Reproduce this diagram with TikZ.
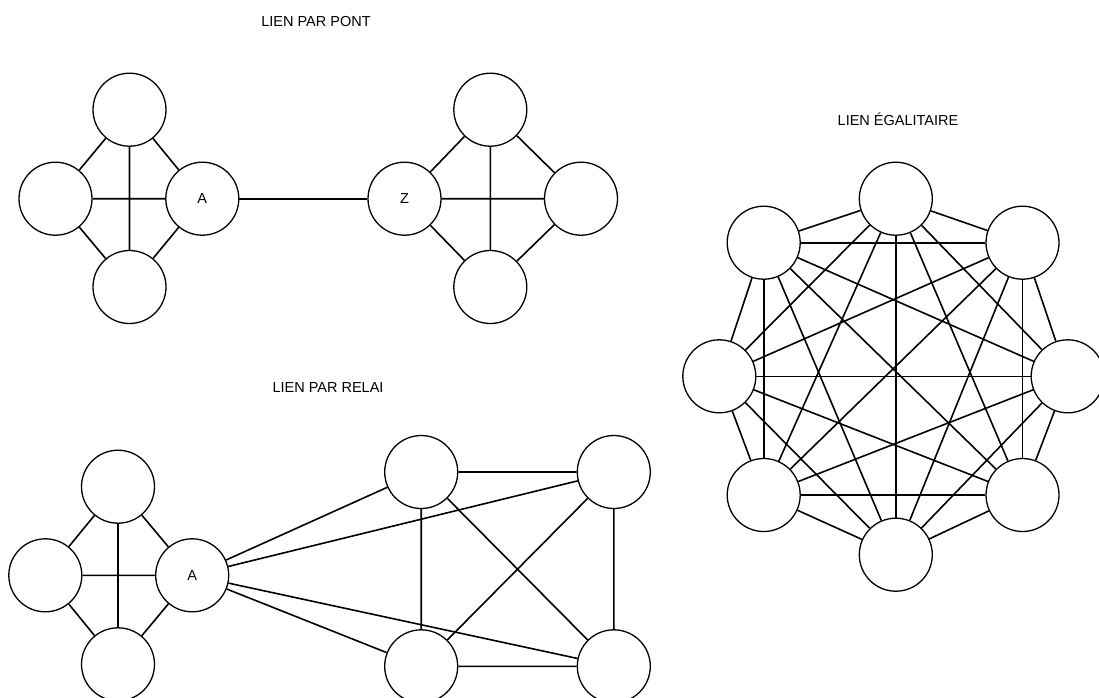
\documentclass[tikz,border=0pt]{standalone}
\usepackage{fontspec}
\setmainfont{Liberation Sans}
\begin{document}
\begin{tikzpicture}[x=1pt,y=-1pt,
  nd/.style={circle,draw,fill=white,line width=1.3pt,minimum size=73pt,inner sep=0pt,font=\fontsize{14.5}{16}\selectfont},
  ed/.style={line width=1.6pt},
  ttl/.style={font=\fontsize{14.5}{16}\selectfont}]
\useasboundingbox (0,0) rectangle (1099,697);
% titles
\node[ttl] (t1) at (316,22) {LIEN PAR PONT};
\node[ttl] (t2) at (898,119) {LIEN ÉGALITAIRE};
\node[ttl] (t3) at (328,388) {LIEN PAR RELAI};
% bridge group
\node[nd] (a1) at (129.5,109.7) {};
\node[nd] (a2) at (55.5,198.7) {};
\node[nd] (aA) at (202.3,198.7) {A};
\node[nd] (a4) at (129.5,287) {};
\node[nd] (aZ) at (404.5,198.7) {Z};
\node[nd] (b1) at (490.3,109.7) {};
\node[nd] (b3) at (581,198.7) {};
\node[nd] (b4) at (490.3,287) {};
\draw[ed] (a1)--(a2) (a1)--(aA) (a2)--(a4) (aA)--(a4) (a1)--(a4) (a2)--(aA);
\draw[ed] (aA)--(aZ);
\draw[ed] (aZ)--(b1) (b1)--(b3) (aZ)--(b4) (b4)--(b3) (b1)--(b4) (aZ)--(b3);
% relay group
\node[nd] (c1) at (118,486.7) {};
\node[nd] (c2) at (45.3,575.3) {};
\node[nd] (cA) at (192.2,575.3) {A};
\node[nd] (c4) at (118,664.3) {};
\node[nd] (d1) at (421.2,472) {};
\node[nd] (d2) at (613.8,472) {};
\node[nd] (d3) at (421.2,666.3) {};
\node[nd] (d4) at (613.8,666.3) {};
\draw[ed] (c1)--(c2) (c1)--(cA) (c2)--(c4) (cA)--(c4) (c1)--(c4) (c2)--(cA);
\draw[ed] (cA)--(d1) (cA)--(d2) (cA)--(d3) (cA)--(d4);
\draw[ed] (d1)--(d2) (d1)--(d3) (d1)--(d4) (d2)--(d3) (d2)--(d4) (d3)--(d4);
% egalitarian group
\node[nd] (e1) at (895.8,198.7) {};
\node[nd] (e2) at (1022.5,242.7) {};
\node[nd] (e3) at (1067.7,376.3) {};
\node[nd] (e4) at (1022.5,495) {};
\node[nd] (e5) at (895.8,554.7) {};
\node[nd] (e6) at (763.7,495) {};
\node[nd] (e7) at (719.3,376.3) {};
\node[nd] (e8) at (763.7,242.7) {};
\foreach \i in {1,...,7}{
  \pgfmathtruncatemacro{\s}{\i+1}
  \foreach \j in {\s,...,8}{
    \draw[ed] (e\i)--(e\j);
  }
}
\end{tikzpicture}
\end{document}
